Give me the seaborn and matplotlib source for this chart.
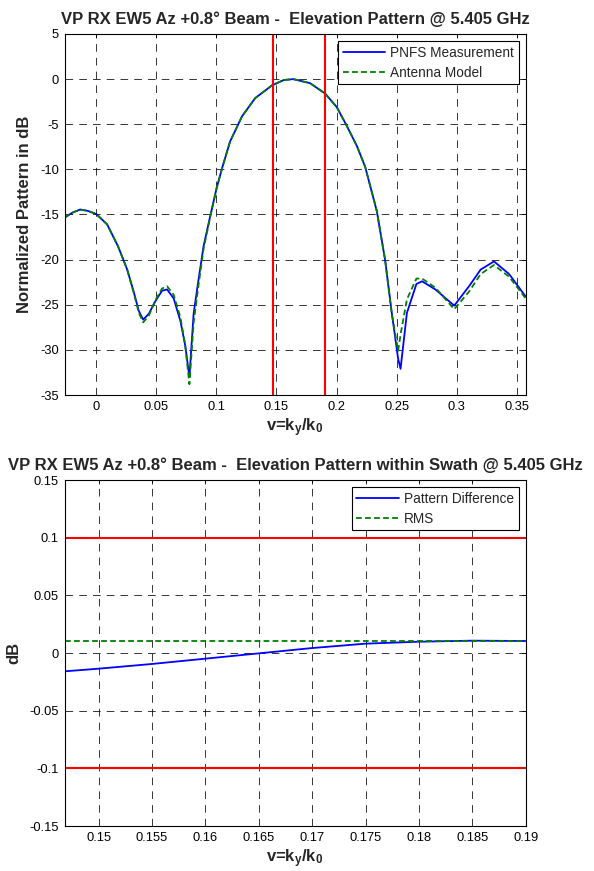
import matplotlib
matplotlib.use("Agg")
import matplotlib.pyplot as plt
import seaborn as sns
import pandas as pd

# ---------------- data ----------------
v_top = [-0.0265, -0.020, -0.0135, -0.007, 0.000, 0.009, 0.018, 0.0257, 0.0312, 0.0354,
         0.039, 0.0437, 0.0492, 0.0547, 0.0589, 0.0644, 0.070, 0.074, 0.0775, 0.081,
         0.0851, 0.0893, 0.0948, 0.1003, 0.1053, 0.1114, 0.1214, 0.1323, 0.1462, 0.156,
         0.164, 0.178, 0.1905, 0.2002, 0.2086, 0.2169, 0.2238, 0.2335, 0.2404, 0.246,
         0.2513, 0.2533, 0.2586, 0.2665, 0.2712, 0.2822, 0.298, 0.3106, 0.32, 0.3311,
         0.3437, 0.3575]
pnfs = [-15.35, -14.8, -14.45, -14.6, -14.95, -16.1, -18.5, -21.1, -23.6, -25.7,
        -26.65, -26.0, -24.6, -23.45, -23.3, -24.3, -26.8, -29.5, -33.0, -26.0,
        -22.2, -18.5, -15.2, -12.0, -9.6, -6.9, -4.1, -2.1, -0.7, -0.1,
        0.0, -0.45, -1.6, -3.1, -5.2, -7.4, -9.7, -14.6, -20.0, -25.9,
        -31.0, -32.1, -25.9, -22.7, -22.4, -23.3, -25.1, -22.9, -21.1, -20.2,
        -21.6, -24.1]
model = [-15.35, -14.8, -14.45, -14.6, -14.95, -16.1, -18.5, -21.1, -23.7, -25.9,
         -26.95, -26.2, -24.5, -23.2, -22.95, -23.9, -26.4, -29.5, -33.8, -27.0,
         -22.8, -18.8, -15.3, -12.0, -9.6, -6.9, -4.1, -2.1, -0.7, -0.1,
         0.0, -0.45, -1.6, -3.1, -5.2, -7.4, -9.7, -14.6, -20.0, -26.0,
         -30.1, -28.3, -24.4, -22.1, -22.1, -23.1, -25.5, -23.5, -21.6, -20.6,
         -21.9, -24.3]
swath_edges = [0.1468, 0.19]

v_swath = [0.1468, 0.15, 0.155, 0.16, 0.165, 0.17, 0.175, 0.18, 0.185, 0.19]
pattern_diff = [-0.0159, -0.0136, -0.0095, -0.0049, -0.0003, 0.0043, 0.0081, 0.0098, 0.0107, 0.0104]
rms_value = 0.0100
limits = [0.1, -0.1]

top_xticks = [0, 0.05, 0.1, 0.15, 0.2, 0.25, 0.3, 0.35]
top_xticklabels = ["0", "0.05", "0.1", "0.15", "0.2", "0.25", "0.3", "0.35"]
top_yticks = [5, 0, -5, -10, -15, -20, -25, -30, -35]
top_yticklabels = ["5", "0", "-5", "-10", "-15", "-20", "-25", "-30", "-35"]
bot_xticks = [0.15, 0.155, 0.16, 0.165, 0.17, 0.175, 0.18, 0.185, 0.19]
bot_xticklabels = ["0.15", "0.155", "0.16", "0.165", "0.17", "0.175", "0.18", "0.185", "0.19"]
bot_yticks = [0.15, 0.1, 0.05, 0, -0.05, -0.1, -0.15]
bot_yticklabels = ["0.15", "0.1", "0.05", "0", "-0.05", "-0.1", "-0.15"]

title_top = "VP RX EW5 Az +0.8° Beam -  Elevation Pattern @ 5.405 GHz"
title_bot = "VP RX EW5 Az +0.8° Beam -  Elevation Pattern within Swath @ 5.405 GHz"
xlabel = r"v=k$_\mathbf{y}$/k$_\mathbf{0}$"

# ---------------- style ----------------
sns.set_theme(style="white")
plt.rcParams["font.family"] = ["Liberation Sans", "DejaVu Sans"]
plt.rcParams["mathtext.fontset"] = "custom"
plt.rcParams["mathtext.rm"] = "Liberation Sans"
plt.rcParams["mathtext.bf"] = "Liberation Sans:bold"
plt.rcParams["mathtext.it"] = "Liberation Sans:italic"
plt.rcParams["axes.edgecolor"] = "black"
plt.rcParams["axes.linewidth"] = 0.8

df_top = pd.DataFrame({"v": v_top, "pnfs": pnfs, "model": model})
df_bot = pd.DataFrame({"v": v_swath, "diff": pattern_diff})

fig = plt.figure(figsize=(5.94, 8.71), dpi=100)
W, H = 594.0, 871.0
L, R = 64.5, 525.7
ax1 = fig.add_axes([L / W, 1 - 395 / H, (R - L) / W, (395 - 34) / H])
ax2 = fig.add_axes([L / W, 1 - 826 / H, (R - L) / W, (826 - 480) / H])

grid_kw = dict(color="black", linewidth=0.55, linestyle=(0, (10, 8)))
TFS = 12
LFS = 12

# ---------------- top ----------------
ax1.grid(True, **grid_kw)
ax1.set_axisbelow(True)
sns.lineplot(data=df_top, x="v", y="pnfs", ax=ax1, color=(0, 0, 1), linewidth=1.3,
             sort=False, estimator=None, label="PNFS Measurement")
sns.lineplot(data=df_top, x="v", y="model", ax=ax1, color=(0, 0.5, 0), linewidth=1.3,
             sort=False, estimator=None, label="Antenna Model", dashes=False,
             linestyle=(0, (3.2, 1.8)))
for xe in swath_edges:
    ax1.axvline(xe, color=(1, 0, 0), linewidth=1.5)
ax1.set_xlim(-0.0265, 0.3575)
ax1.set_ylim(-35, 5)
ax1.set_xticks(top_xticks, top_xticklabels)
ax1.set_yticks(top_yticks, top_yticklabels)
ax1.set_title(title_top, fontsize=TFS, fontweight="bold", pad=7)
ax1.set_xlabel(xlabel, fontsize=LFS, fontweight="bold", labelpad=3)
ax1.set_ylabel("Normalized Pattern in dB", fontsize=LFS, fontweight="bold", labelpad=6)
leg1 = ax1.legend(loc="upper right", fontsize=9.8, frameon=True, fancybox=False,
                  edgecolor="black", framealpha=1, handlelength=3.1, handletextpad=0.4,
                  borderpad=0.35, labelspacing=0.45, borderaxespad=0.5)
leg1.get_frame().set_linewidth(0.8)

# ---------------- bottom ----------------
ax2.grid(True, **grid_kw)
ax2.set_axisbelow(True)
for yl in limits:
    ax2.axhline(yl, color=(1, 0, 0), linewidth=1.5)
sns.lineplot(data=df_bot, x="v", y="diff", ax=ax2, color=(0, 0, 1), linewidth=1.3,
             sort=False, estimator=None, label="Pattern Difference")
ax2.axhline(rms_value, color=(0, 0.5, 0), linewidth=1.3, linestyle=(0, (3.2, 1.8)),
            label="RMS")
ax2.set_xlim(0.1468, 0.19)
ax2.set_ylim(-0.15, 0.15)
ax2.set_xticks(bot_xticks, bot_xticklabels)
ax2.set_yticks(bot_yticks, bot_yticklabels)
ax2.set_title(title_bot, fontsize=TFS, fontweight="bold", pad=7)
ax2.set_xlabel(xlabel, fontsize=LFS, fontweight="bold", labelpad=3)
ax2.set_ylabel("dB", fontsize=LFS, fontweight="bold", labelpad=6)
leg2 = ax2.legend(loc="upper right", fontsize=9.8, frameon=True, fancybox=False,
                  edgecolor="black", framealpha=1, handlelength=3.1, handletextpad=0.4,
                  borderpad=0.35, labelspacing=0.45, borderaxespad=0.5)
leg2.get_frame().set_linewidth(0.8)

for ax in (ax1, ax2):
    ax.tick_params(direction="in", length=3, width=0.6, top=True, right=True,
                   labelsize=9.3, pad=4, colors="black")
    for s in ax.spines.values():
        s.set_visible(True)
        s.set_color("black")
        s.set_linewidth(0.8)

fig.savefig("out.png", dpi=100)
